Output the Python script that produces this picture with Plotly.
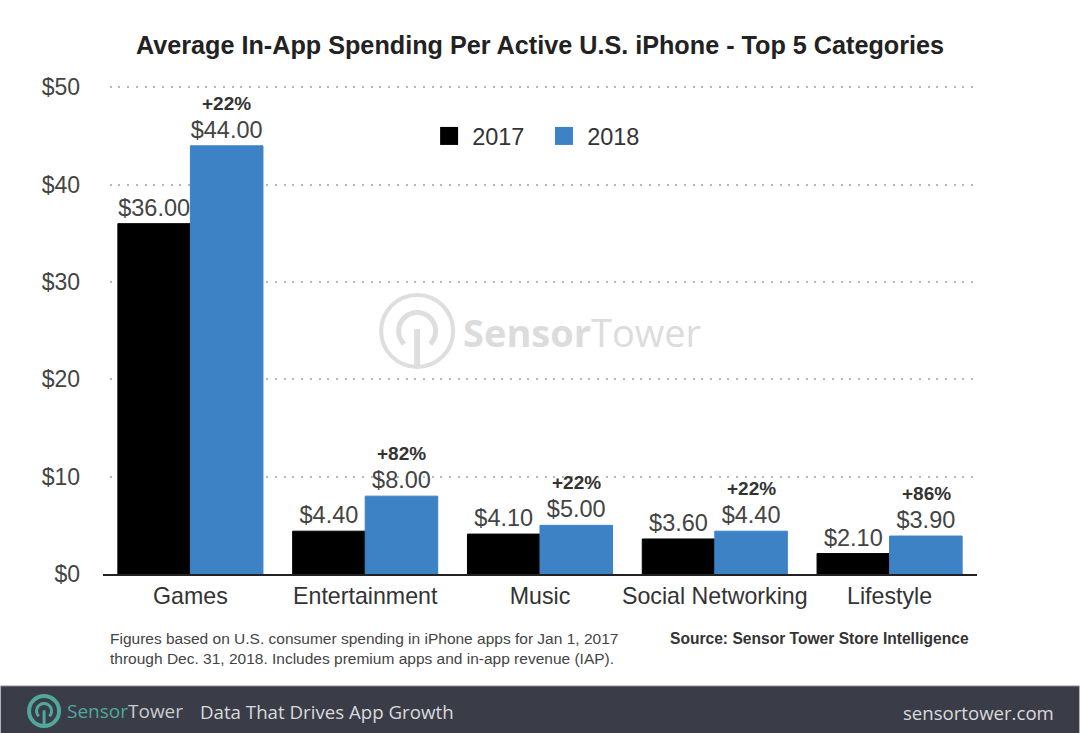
import math
import plotly.graph_objects as go

categories = ["Games", "Entertainment", "Music", "Social Networking", "Lifestyle"]
values_2017 = [36.00, 4.40, 4.10, 3.60, 2.10]
values_2018 = [44.00, 8.00, 5.00, 4.40, 3.90]
growth_labels = ["+22%", "+82%", "+22%", "+22%", "+86%"]
tick_values = [0, 10, 20, 30, 40, 50]
tick_labels = ["$0", "$10", "$20", "$30", "$40", "$50"]

W, H = 1080, 733
L, R, T, B = 102.5, 102.5, 85.07, 159
FONT = "Liberation Sans, Arial, sans-serif"
LOGO_FONT = "Open Sans, Noto Sans, sans-serif"
BLACK = "#000000"
BLUE = "#3c82c4"


def px(x):
    return (x - L) / (W - L - R)


def py(y):
    return 1 - (y - T) / (H - T - B)


def logo(cx, cy, r, ar, ring_w, arc_w, stem_w, color):
    """Ring, open arc and stem of the brand mark, in pixels around a centre."""
    common = dict(xref="paper", yref="paper", xsizemode="pixel", ysizemode="pixel",
                  xanchor=px(cx), yanchor=py(cy), layer="below")
    pts = [(ar * math.cos(math.radians(a)), ar * math.sin(math.radians(a))) for a in range(-45, 226, 10)]
    arc = "M" + " L".join(f"{x:.2f},{y:.2f}" for x, y in pts)
    top = ar * 0.1
    return [
        dict(type="circle", x0=-r, x1=r, y0=-r, y1=r, line=dict(color=color, width=ring_w), **common),
        dict(type="path", path=arc, line=dict(color=color, width=arc_w), **common),
        dict(type="path", path=f"M0,{top:.2f} L0,{-r:.2f}", line=dict(color=color, width=stem_w), **common),
    ]


def swatch(x0, y0, color):
    return dict(type="rect", xref="paper", yref="paper", x0=px(x0), x1=px(x0 + 18), y0=py(y0), y1=py(y0 + 18),
                fillcolor=color, line=dict(width=0), layer="above")


fig = go.Figure()
fig.add_bar(name="2017", x=categories, y=values_2017, marker=dict(color=BLACK, line=dict(color=BLACK, width=1)),
            texttemplate="$%{y:.2f}", textposition="outside", cliponaxis=False,
            textfont=dict(family=FONT, size=23.5, color="#444444"))
fig.add_bar(name="2018", x=categories, y=values_2018, marker=dict(color=BLUE, line=dict(color=BLUE, width=1)),
            texttemplate="$%{y:.2f}", textposition="outside", cliponaxis=False,
            textfont=dict(family=FONT, size=23.5, color="#444444"))

annotations = [
    dict(x=c, y=v, text=f"<b>{g}</b>", xshift=36.5, yshift=30, yanchor="bottom", showarrow=False,
         font=dict(family=FONT, size=19, color="#333333"))
    for c, v, g in zip(categories, values_2018, growth_labels)
]


def note(x, y, text, size, color, anchor="left", family=FONT):
    annotations.append(dict(xref="paper", yref="paper", x=px(x), y=py(y), text=text, showarrow=False,
                            xanchor=anchor, yanchor="middle", align="left",
                            font=dict(family=family, size=size, color=color)))


note(108, 648, "Figures based on U.S. consumer spending in iPhone apps for Jan 1, 2017<br>"
               "through Dec. 31, 2018. Includes premium apps and in-app revenue (IAP).", 15.5, "#444444")
note(971, 638, "<b>Source: Sensor Tower Store Intelligence</b>", 15.6, "#333333", "right")
note(461, 332, "<b>Sensor</b>Tower", 38, "#dcdcdc", family=LOGO_FONT)
note(64, 711, "<span style='color:#4fa89b'>Sensor</span>Tower", 19, "#c9cbce", family=LOGO_FONT)
note(198, 711, "Data That Drives App Growth", 18.7, "#d9dadc", family=LOGO_FONT)
note(1057, 712, "sensortower.com", 18.6, "#d9dadc", "right", family=LOGO_FONT)

shapes = [
    dict(type="rect", xref="paper", yref="paper", x0=px(0), x1=px(W), y0=py(686), y1=py(H),
         fillcolor="#3a3d47", line=dict(width=0), layer="below"),
    dict(type="line", xref="paper", yref="paper", x0=px(0), x1=px(W), y0=py(686), y1=py(686),
         line=dict(color="#8a8c90", width=1), layer="below"),
    swatch(440, 127, BLACK),
    swatch(555, 127, BLUE),
]
shapes += logo(417, 331, 36, 18.5, 4, 5, 6, "#dedede")
shapes += logo(43.5, 711, 15, 7.5, 4, 3, 3, "#4fa89b")

fig.update_layout(
    width=W, height=H, autosize=False,
    margin=dict(l=L, r=R, t=T, b=B, pad=0),
    paper_bgcolor="#ffffff", plot_bgcolor="#ffffff",
    barmode="group", bargap=0.17, bargroupgap=0,
    title=dict(text="<b>Average In-App Spending Per Active U.S. iPhone - Top 5 Categories</b>",
               x=0.5, xanchor="center", y=1 - 45 / H, yanchor="middle",
               font=dict(family=FONT, size=25.2, color="#222222")),
    xaxis=dict(type="category", categoryorder="array", categoryarray=categories,
               showgrid=False, showline=True, linecolor="#222222", linewidth=2, ticks="",
               ticklabelstandoff=0, tickfont=dict(family=FONT, size=23.2, color="#333333")),
    yaxis=dict(range=[0, 50.25], tickvals=tick_values, ticktext=tick_labels, zeroline=False,
               showgrid=True, gridcolor="#b8b8b8", gridwidth=2, griddash="0px,6.7px,2px,0px",
               ticks="", ticklabelstandoff=22, tickfont=dict(family=FONT, size=23, color="#444444")),
    legend=dict(orientation="h", x=px(424), y=py(136), xanchor="left", yanchor="middle",
                font=dict(family=FONT, size=23.5, color="#333333"), bgcolor="rgba(0,0,0,0)",
                itemwidth=38, entrywidth=62, entrywidthmode="pixels",
                traceorder="normal", itemclick=False, itemdoubleclick=False),
    annotations=annotations,
    shapes=shapes,
    showlegend=True,
)

fig.write_html("out.html", config=dict(displayModeBar=False),
               post_script="document.body.style.margin='0';document.body.style.padding='0';")
